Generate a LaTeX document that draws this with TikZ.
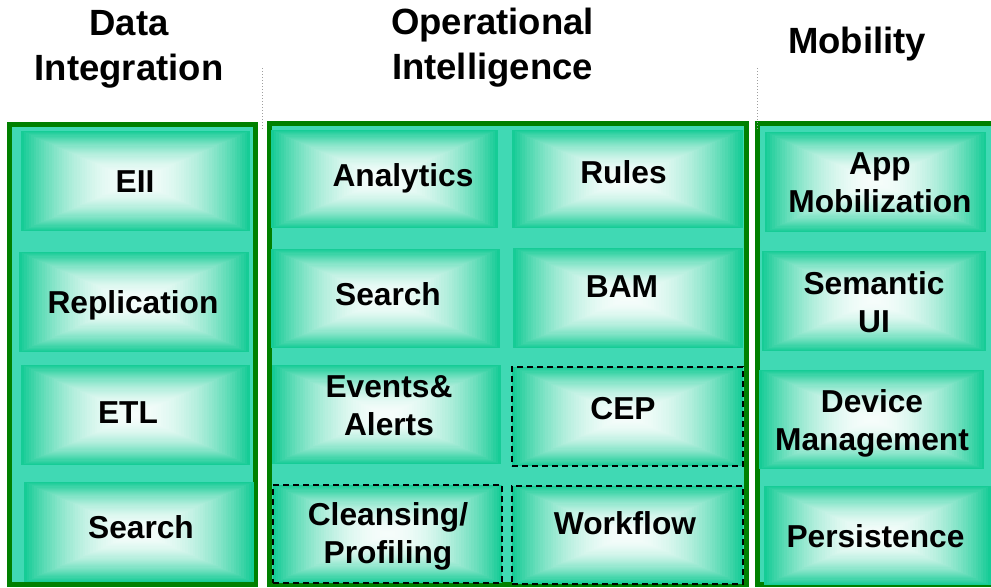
\documentclass[tikz,border=0pt]{standalone}
\usepackage{fontspec}
\setmainfont{Liberation Sans}
\usetikzlibrary{calc}
\definecolor{pgreen}{RGB}{0,128,0}
\definecolor{turq}{RGB}{64,217,180}
\definecolor{boxg}{RGB}{22,204,150}
\tikzset{
  panel/.style={draw=pgreen, line width=5pt, fill=turq},
  pillow/.style={rectangle, inner sep=0pt, fill=boxg, path picture={
    \foreach \k in {0,...,44} {
      \pgfmathsetmacro\ff{1-\k/45}
      \pgfmathsetmacro\pc{4+96*(1-\k/45)*(1-\k/45)}
      \fill[boxg!\pc!white]
        ($(path picture bounding box.center)!\ff!(path picture bounding box.north west)$)
        rectangle
        ($(path picture bounding box.center)!\ff!(path picture bounding box.south east)$);
    }
  }},
  dashedbox/.style={draw=black, dash pattern=on 6pt off 4pt, line width=1.5pt},
  lbl/.style={font=\fontsize{31.7}{38}\selectfont\bfseries, align=center, anchor=base, inner sep=0pt},
  ttl/.style={font=\fontsize{36.5}{45}\selectfont\bfseries, align=center, anchor=base, inner sep=0pt},
  sepline/.style={draw=gray!75, dotted, line width=1pt}
}
\newcommand\pillowbox[6][]{%
  \pgfmathsetmacro\bxw{#5-#3}\pgfmathsetmacro\bxh{#6-#4}%
  \node[pillow,#1,minimum width=\bxw pt,minimum height=\bxh pt] (#2) at ({(#3+#5)/2},{(#4+#6)/2}) {};}
\begin{document}
\begin{tikzpicture}[x=1pt,y=-1pt]
\useasboundingbox (0,0) rectangle (991,587);
% panels
\draw[panel] (9.5,124.5) rectangle (255.5,584.5);
\draw[panel] (269.5,123.5) rectangle (746.5,584.5);
\draw[panel] (757.5,123.5) rectangle (1000,584.5);
% left column boxes
\pillowbox{bEII}{21}{131}{250}{231}
\pillowbox{bRep}{19}{252}{249}{352}
\pillowbox{bETL}{21}{365}{250}{465}
\pillowbox{bSearchL}{24}{482}{254}{582}
% middle boxes
\pillowbox{bAna}{271}{130}{498}{228}
\pillowbox{bRules}{512}{130}{743}{228}
\pillowbox{bSearchM}{271}{249}{500}{348}
\pillowbox{bBAM}{513}{248}{743}{348}
\pillowbox{bEvt}{272}{365}{501}{464}
\pillowbox[dashedbox]{bCEP}{512}{367}{743}{466}
\pillowbox[dashedbox]{bCln}{273}{485}{502}{583}
\pillowbox[dashedbox]{bWf}{512}{486}{743}{584}
% right boxes
\pillowbox{bApp}{765}{132}{986}{232}
\pillowbox{bSem}{762}{251}{986}{351}
\pillowbox{bDev}{759}{370}{984}{469}
\pillowbox{bPer}{764}{486}{991}{585}
% labels (anchor base = baseline of last line)
\node[lbl] (tEII) at (135,192) {EII};
\node[lbl] (tRep) at (133,313) {Replication};
\node[lbl] (tETL) at (128,423) {ETL};
\node[lbl] (tSearchL) at (141,538) {Search};
\node[lbl] (tAna) at (403,186) {Analytics};
\node[lbl] (tRules) at (623.5,183) {Rules};
\node[lbl] (tSearchM) at (388,305) {Search};
\node[lbl] (tBAM) at (622,297) {BAM};
\node[lbl] (tEvt) at (389,435) {Events\&\\Alerts};
\node[lbl] (tCEP) at (623,419) {CEP};
\node[lbl] (tCln) at (388,563) {Cleansing/\\Profiling};
\node[lbl] (tWf) at (625,534) {Workflow};
\node[lbl] (tApp) at (880,212) {App\\Mobilization};
\node[lbl] (tSem) at (874,332) {Semantic\\UI};
\node[lbl] (tDev) at (872,450) {Device\\Management};
\node[lbl] (tPer) at (875.5,547) {Persistence};
% titles
\node[ttl] (hDI) at (129,80) {Data\\Integration};
\node[ttl] (hOI) at (492.5,79) {Operational\\Intelligence};
\node[ttl] (hMob) at (857,53) {Mobility};
% dotted separators
\coordinate (s1a) at (262,68);
\coordinate (s1b) at (262,130);
\coordinate (s2a) at (757,68);
\coordinate (s2b) at (757,130);
\draw[sepline] (s1a) -- (s1b);
\draw[sepline] (s2a) -- (s2b);
\end{tikzpicture}
\end{document}
